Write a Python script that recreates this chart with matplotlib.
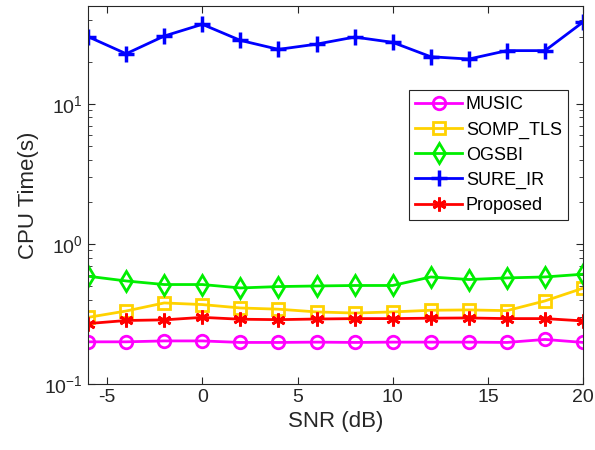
import matplotlib
matplotlib.use("Agg")
import matplotlib.pyplot as plt
from matplotlib.ticker import LogLocator, NullFormatter, MultipleLocator

plt.rcParams['font.family'] = ['Liberation Sans', 'DejaVu Sans']
plt.rcParams['mathtext.default'] = 'regular'
plt.rcParams['axes.unicode_minus'] = False

snr = [-6, -4, -2, 0, 2, 4, 6, 8, 10, 12, 14, 16, 18, 20]

music = [0.200, 0.200, 0.203, 0.203, 0.198, 0.198, 0.199, 0.198, 0.199, 0.199, 0.199, 0.198, 0.208, 0.198]
somp_tls = [0.299, 0.332, 0.379, 0.369, 0.349, 0.342, 0.327, 0.321, 0.327, 0.336, 0.338, 0.334, 0.392, 0.483]
ogsbi = [0.588, 0.544, 0.513, 0.513, 0.485, 0.496, 0.501, 0.505, 0.505, 0.581, 0.557, 0.572, 0.581, 0.608]
sure_ir = [30.2, 22.8, 30.5, 37.0, 28.4, 24.5, 26.7, 30.0, 27.5, 21.7, 20.9, 24.0, 24.0, 38.4]
proposed = [0.270, 0.284, 0.287, 0.299, 0.290, 0.288, 0.291, 0.293, 0.293, 0.295, 0.296, 0.293, 0.293, 0.282]

fig = plt.figure(figsize=(5.95, 4.5), dpi=100)
ax = fig.add_axes([0.148, 0.1467, 0.832, 0.84])

ax.plot(snr, music, color='#ff00ff', marker='o', ms=9, mfc='none', mew=2, lw=2, label='MUSIC')
ax.plot(snr, somp_tls, color='#ffd200', marker='s', ms=8, mfc='none', mew=2, lw=2, label='SOMP_TLS')
ax.plot(snr, ogsbi, color='#00ee00', marker='d', ms=10, mfc='none', mew=2, lw=2, label='OGSBI')
ax.plot(snr, sure_ir, color='#0000ff', marker='+', ms=12, mew=2.5, lw=2, label='SURE_IR')
# matplotlib's '*' is a filled star, MATLAB's is an asterisk
ax.plot(snr, proposed, color='#ff0000', marker=(6, 2, 0), ms=10, mew=2, lw=2, label='Proposed')

ax.set_yscale('log')
ax.set_xlim(-6, 20)
ax.set_ylim(0.1, 50)
ax.xaxis.set_major_locator(MultipleLocator(5))
ax.yaxis.set_major_locator(LogLocator(base=10, numticks=10))
ax.yaxis.set_minor_locator(LogLocator(base=10, subs=range(2, 10), numticks=10))
ax.yaxis.set_minor_formatter(NullFormatter())

ax.tick_params(which='both', direction='in', top=True, right=True, colors='#262626', labelcolor='#262626')
ax.tick_params(which='major', length=5, labelsize=14)
ax.tick_params(which='minor', length=3)
for s in ax.spines.values():
    s.set_color('#262626')
    s.set_linewidth(0.8)

ax.set_xlabel('SNR (dB)', fontsize=16, color='#262626')
ax.set_ylabel('CPU Time(s)', fontsize=16, color='#262626')

leg = ax.legend(loc='upper right', bbox_to_anchor=(0.97, 0.778), borderaxespad=0,
                fontsize=13, numpoints=1, handlelength=2.6, handletextpad=0.2,
                labelspacing=0.45, borderpad=0.35, fancybox=False, framealpha=1)
leg.get_frame().set_edgecolor('#262626')
leg.get_frame().set_linewidth(0.8)

fig.savefig('out.png', dpi=100)
